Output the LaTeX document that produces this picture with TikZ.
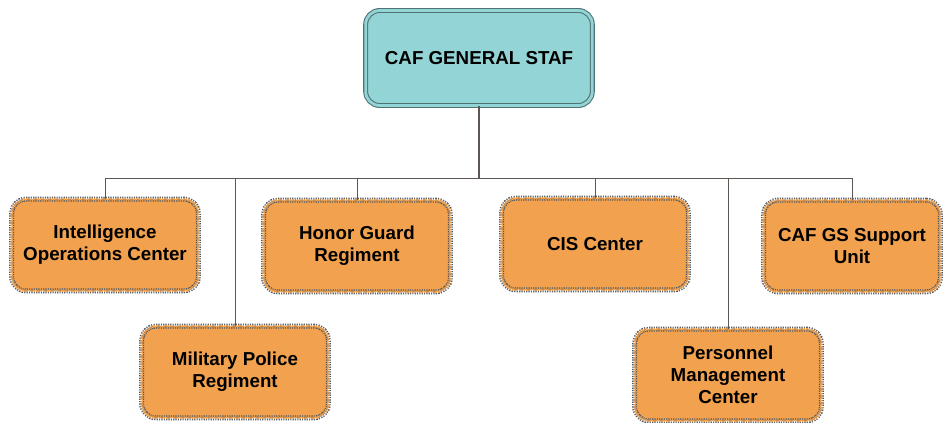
\documentclass[tikz,border=0pt]{standalone}
\usepackage{fontspec}
\setmainfont{Liberation Sans}
\definecolor{staffill}{HTML}{93D4D6}
\definecolor{stafline}{HTML}{4F7272}
\definecolor{unitfill}{HTML}{F2A24E}
\definecolor{unitline}{HTML}{4A5664}
\definecolor{wire}{HTML}{5E5652}

\begin{document}
\begin{tikzpicture}[x=0.03cm, y=-0.03cm, thick,
    top/.style = {draw=stafline, fill=staffill, double=staffill, double distance=2.4pt, line width=0.9pt, rounded corners=12pt, minimum width=6.8cm, minimum height=2.85cm, align=center, font=\fontsize{16}{19}\selectfont\bfseries},
    unit/.style = {draw=unitline, fill=unitfill, densely dotted, double=unitfill, double distance=2.2pt, line width=1pt, rounded corners=12pt, minimum width=5.6cm, minimum height=2.75cm, align=center, font=\fontsize{16}{19}\selectfont\bfseries},
    link/.style = {draw=wire, line width=0.8pt}]
      \useasboundingbox (0,0) rectangle (943,423);
      \node[top] (gs) at (479,58) {CAF GENERAL STAF};
      \coordinate (bus) at (479,178);
      \draw[link, line width=1.1pt] (gs) -- (bus);
      \node[unit] (ioc) at (105,245) {Intelligence\\Operations Center};
      \node[unit] (mp) at (235,372) {Military Police\\Regiment};
      \node[unit] (hg) at (357,246) {Honor Guard\\Regiment};
      \node[unit] (cis) at (595,244) {CIS Center};
      \node[unit] (pm) at (728,375) {Personnel\\Management\\Center};
      \node[unit, minimum width=5.3cm] (sup) at (852,246) {CAF GS Support\\Unit};
      \draw[link] (bus) -| (ioc);
      \draw[link] (bus) -| (mp);
      \draw[link] (bus) -| (hg);
      \draw[link] (bus) -| (cis);
      \draw[link] (bus) -| (pm);
      \draw[link] (bus) -| (sup);
\end{tikzpicture}
\end{document}
